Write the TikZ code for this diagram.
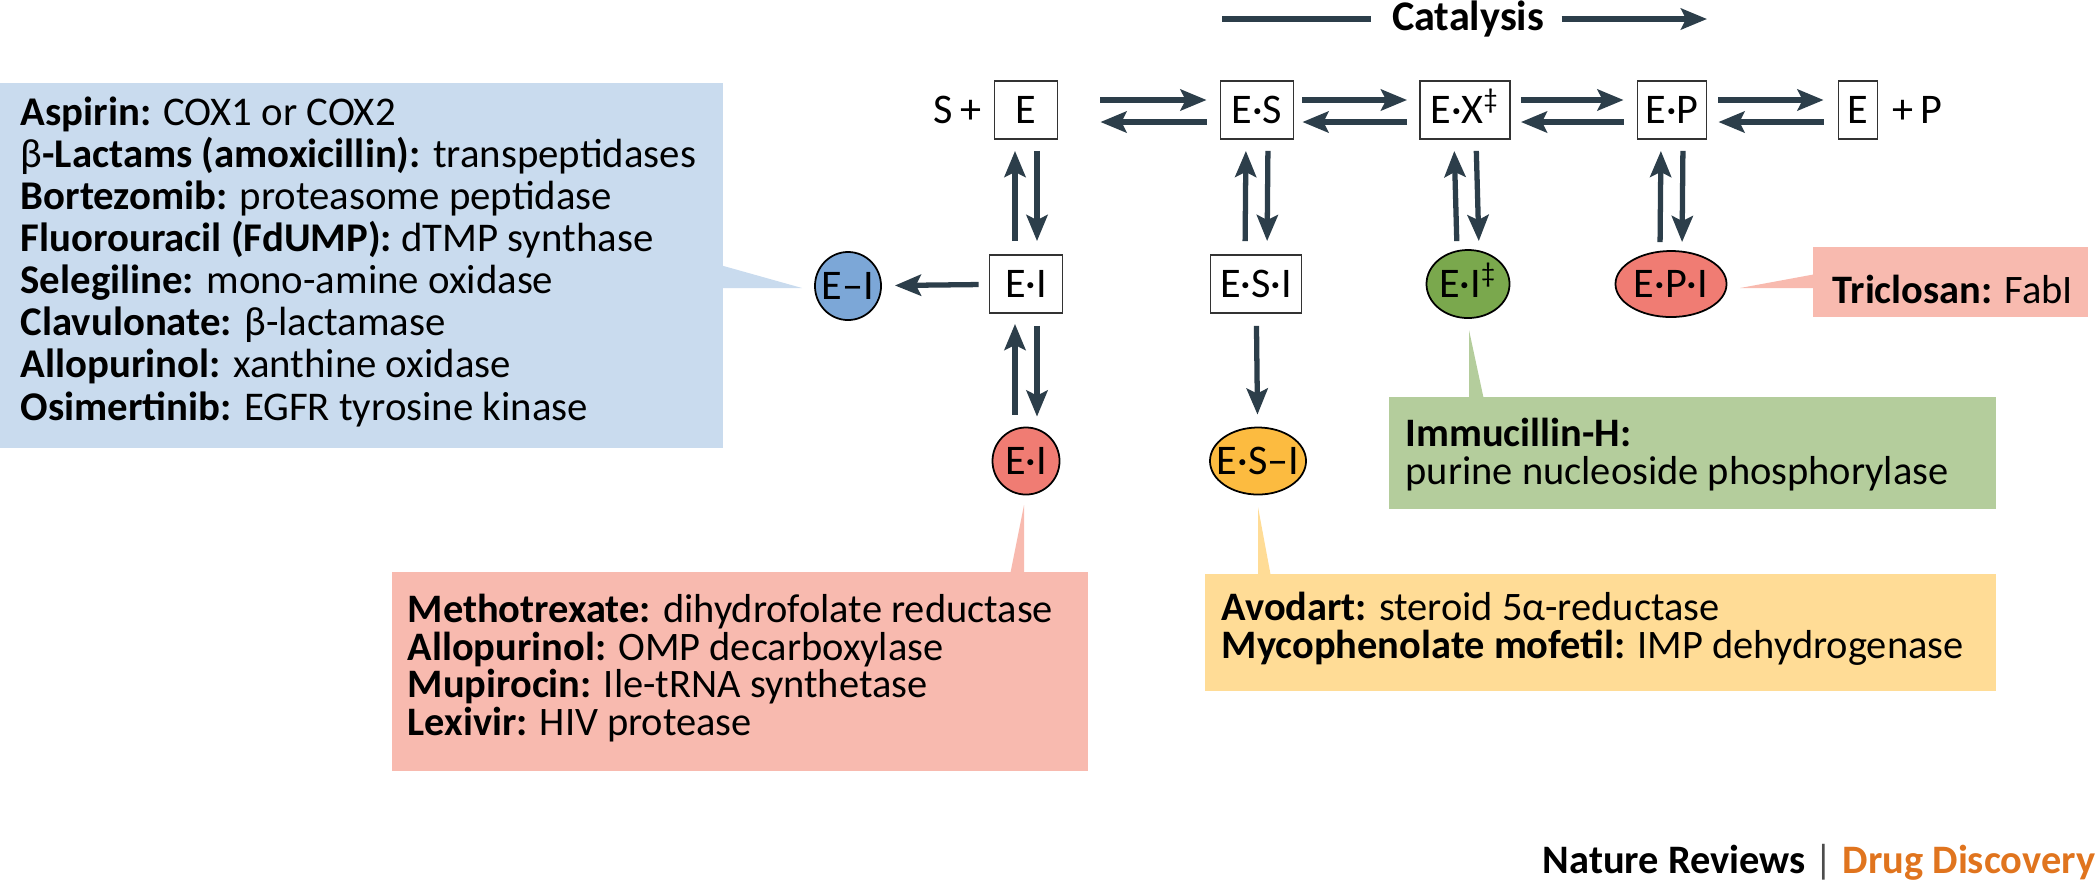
\documentclass[tikz,border=0pt]{standalone}
\usepackage{fontspec}
\setmainfont{Carlito}
\usetikzlibrary{arrows.meta,shapes.geometric}

\definecolor{arrowcol}{RGB}{44,62,74}
\definecolor{bluefill}{RGB}{201,219,238}
\definecolor{blueell}{RGB}{124,167,215}
\definecolor{redfill}{RGB}{248,186,175}
\definecolor{redell}{RGB}{240,124,115}
\definecolor{greenfill}{RGB}{180,205,156}
\definecolor{greenell}{RGB}{122,168,77}
\definecolor{yellowfill}{RGB}{255,220,150}
\definecolor{yellowell}{RGB}{252,187,64}
\definecolor{natorange}{RGB}{224,116,30}

\begin{document}
\begin{tikzpicture}[x=0.01cm,y=-0.01cm,
  species/.style={draw=black!80,line width=0.5pt,minimum height=0.58cm,inner sep=0pt,text height=0.27cm,text depth=0cm,font=\fontsize{12}{12}\selectfont},
  complex/.style={ellipse,draw=black,line width=0.5pt,inner xsep=-0.3cm,inner ysep=-0.2cm,text height=0.27cm,text depth=0cm,font=\fontsize{12}{12}\selectfont},
  plain/.style={inner sep=0pt,font=\fontsize{12}{12}\selectfont},
  react/.style={draw=arrowcol,line width=1.5pt,-{Stealth[length=0.26cm,width=0.21cm,inset=0.05cm]}},
  panel/.style={inner sep=0pt},
  drugs/.style={anchor=base west,align=left,inner sep=0pt,font=\fontsize{11.5}{10.64}\selectfont},
]
\useasboundingbox (0,0) rectangle (2100,887);

% callout panels
\node[panel,fill=bluefill,minimum width=7.23cm,minimum height=3.65cm] (bluebox) at (361.5,265.5) {};
\node[panel,fill=redfill,minimum width=6.96cm,minimum height=1.99cm] (redbox) at (740,671.5) {};
\node[panel,fill=greenfill,minimum width=6.07cm,minimum height=1.12cm] (greenbox) at (1692.5,453) {};
\node[panel,fill=yellowfill,minimum width=7.91cm,minimum height=1.17cm] (yellowbox) at (1600.5,632.5) {};
\node[panel,fill=redfill,minimum width=2.75cm,minimum height=0.70cm] (pinkbox) at (1950.5,282) {};
\fill[bluefill] (720,265) -- (802,288) -- (720,288) -- cycle;
\fill[redfill] (1010,575) -- (1024,505) -- (1024,575) -- cycle;
\fill[greenfill] (1469,400) -- (1469,330) -- (1484,400) -- cycle;
\fill[yellowfill] (1258,577) -- (1258,507) -- (1271,577) -- cycle;
\fill[redfill] (1816,274) -- (1740,288) -- (1816,288) -- cycle;

\node[drugs,font=\fontsize{11.6}{11.95}\selectfont] (bluelist) at (20,420) {\textbf{Aspirin:} COX1 or COX2\\
β\textbf{-Lactams (amoxicillin):} transpeptidases\\
\textbf{Bortezomib:} proteasome peptidase\\
\textbf{Fluorouracil (FdUMP):} dTMP synthase\\
\textbf{Selegiline:} mono-amine oxidase\\
\textbf{Clavulonate:} β-lactamase\\
\textbf{Allopurinol:} xanthine oxidase\\
\textbf{Osimertinib:} EGFR tyrosine kinase};
\node[drugs] (redlist) at (407,735) {\textbf{Methotrexate:} dihydrofolate reductase\\
\textbf{Allopurinol:} OMP decarboxylase\\
\textbf{Mupirocin:} Ile-tRNA synthetase\\
\textbf{Lexivir:} HIV protease};
\node[drugs] (greenlist) at (1405,484) {\textbf{Immucillin-H:}\\
purine nucleoside phosphorylase};
\node[drugs] (yellowlist) at (1221,658) {\textbf{Avodart:} steroid 5α-reductase\\
\textbf{Mycophenolate mofetil:} IMP dehydrogenase};
\node[drugs] (pinklist) at (1832,303) {\textbf{Triclosan:} FabI};

% catalysis
\node[inner sep=0pt,font=\fontsize{12}{12}\selectfont\bfseries] (cat) at (1468,19) {Catalysis};
\coordinate (catL) at (1222,19);
\coordinate (catR) at (1707,19);
\draw[draw=arrowcol,line width=1.5pt,shorten >=0.2cm] (catL) -- (cat.west);
\draw[react,shorten <=0.17cm] (cat.east) -- (catR);

% reaction scheme
\node[plain,anchor=east] (S) at (982,110) {S\,+};
\node[species,minimum width=0.63cm] (E) at (1026,110) {E};
\node[species,minimum width=0.73cm] (ES) at (1257,110) {E·S};
\node[species,minimum width=0.90cm] (EX) at (1465,110) {E·X\textsuperscript{‡}};
\node[species,minimum width=0.69cm] (EP) at (1672,110) {E·P};
\node[species,minimum width=0.39cm] (Eend) at (1858,110) {E};
\node[plain,anchor=west] (P) at (1892,110) {+\,P};

\node[complex,fill=blueell,minimum width=0.66cm,minimum height=0.68cm] (EIcov) at (848,286) {E–I};
\node[species,minimum width=0.73cm] (EI) at (1026,284) {E·I};
\node[species,minimum width=0.91cm] (ESI) at (1256,284) {E·S·I};
\node[complex,fill=greenell,minimum width=0.83cm,minimum height=0.68cm] (EIts) at (1468,284) {E·I\textsuperscript{‡}};
\node[complex,fill=redell,minimum width=1.11cm,minimum height=0.66cm] (EPI) at (1671,284) {E·P·I};

\node[complex,fill=redell,minimum width=0.67cm,minimum height=0.67cm] (EIred) at (1026,461) {E·I};
\node[complex,fill=yellowell,minimum width=0.96cm,minimum height=0.67cm] (ESIun) at (1258,461) {E·S–I};

\draw[react,shorten <=0.42cm,shorten >=0.13cm] ([yshift=0.1cm]E.east) -- ([yshift=0.1cm]ES.west);
\draw[react,shorten <=0.13cm,shorten >=0.42cm] ([yshift=-0.12cm]ES.west) -- ([yshift=-0.12cm]E.east);
\draw[react,shorten <=0.08cm,shorten >=0.12cm] ([yshift=0.1cm]ES.east) -- ([yshift=0.1cm]EX.west);
\draw[react,shorten <=0.12cm,shorten >=0.08cm] ([yshift=-0.12cm]EX.west) -- ([yshift=-0.12cm]ES.east);
\draw[react,shorten <=0.1cm,shorten >=0.13cm] ([yshift=0.1cm]EX.east) -- ([yshift=0.1cm]EP.west);
\draw[react,shorten <=0.13cm,shorten >=0.1cm] ([yshift=-0.12cm]EP.west) -- ([yshift=-0.12cm]EX.east);
\draw[react,shorten <=0.11cm,shorten >=0.14cm] ([yshift=0.1cm]EP.east) -- ([yshift=0.1cm]Eend.west);
\draw[react,shorten <=0.14cm,shorten >=0.11cm] ([yshift=-0.12cm]Eend.west) -- ([yshift=-0.12cm]EP.east);

\draw[react,shorten <=0.13cm,shorten >=0.11cm] ([xshift=-0.11cm]EI.north) -- ([xshift=-0.11cm]E.south);
\draw[react,shorten <=0.11cm,shorten >=0.13cm] ([xshift=0.11cm]E.south) -- ([xshift=0.11cm]EI.north);
\draw[react,shorten <=0.13cm,shorten >=0.11cm] ([xshift=-0.11cm]ESI.north) -- ([xshift=-0.11cm]ES.south);
\draw[react,shorten <=0.11cm,shorten >=0.13cm] ([xshift=0.11cm]ES.south) -- ([xshift=0.11cm]ESI.north);
\draw[react,shorten <=0.08cm,shorten >=0.11cm] ([xshift=-0.11cm]EIts.north) -- ([xshift=-0.11cm]EX.south);
\draw[react,shorten <=0.11cm,shorten >=0.08cm] ([xshift=0.11cm]EX.south) -- ([xshift=0.11cm]EIts.north);
\draw[react,shorten <=0.08cm,shorten >=0.11cm] ([xshift=-0.11cm]EPI.north) -- ([xshift=-0.11cm]EP.south);
\draw[react,shorten <=0.11cm,shorten >=0.08cm] ([xshift=0.11cm]EP.south) -- ([xshift=0.11cm]EPI.north);

\draw[react,shorten <=0.1cm,shorten >=0.13cm] (EI) -- (EIcov);
\draw[react,shorten <=0.12cm,shorten >=0.1cm] ([xshift=-0.11cm]EIred.north) -- ([xshift=-0.11cm]EI.south);
\draw[react,shorten <=0.12cm,shorten >=0.1cm] ([xshift=0.11cm]EI.south) -- ([xshift=0.11cm]EIred.north);
\draw[react,shorten <=0.12cm,shorten >=0.12cm] (ESI) -- (ESIun);

\node[anchor=base east,inner sep=0pt,font=\fontsize{11.5}{12}\selectfont\bfseries] (journal) at (2096,873) {Nature Reviews {\mdseries\color{black!70}|} \textcolor{natorange}{Drug Discovery}};
\end{tikzpicture}
\end{document}
